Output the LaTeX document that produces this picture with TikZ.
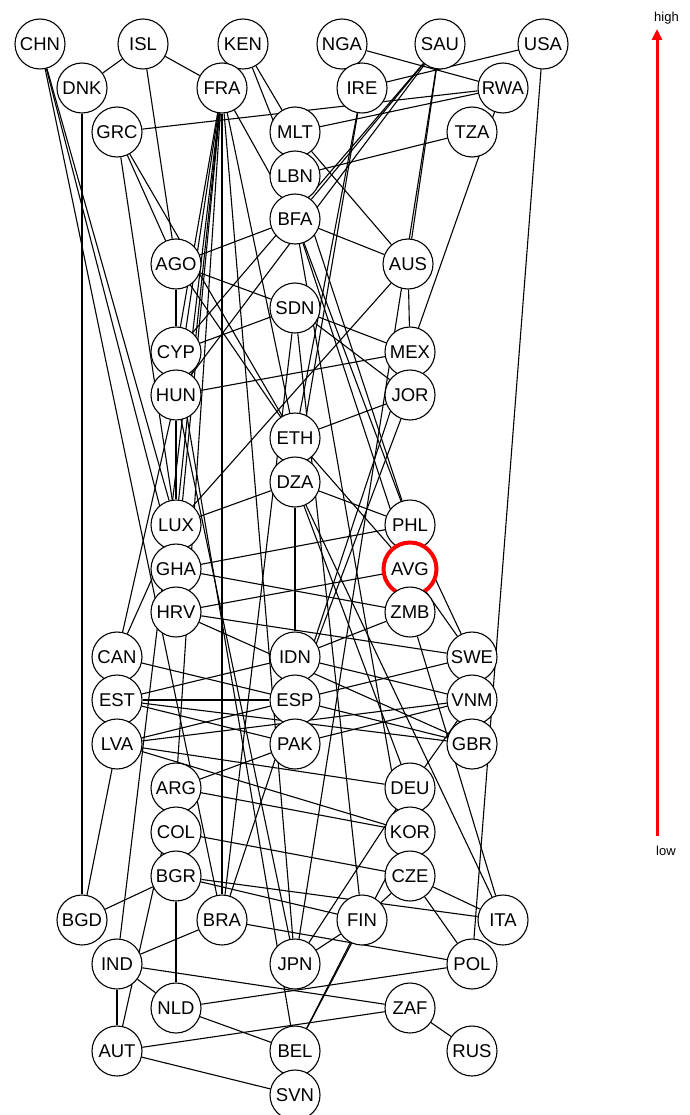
\documentclass[tikz,border=0pt]{standalone}
\usepackage{fontspec}
\setmainfont{Liberation Sans}
\usetikzlibrary{arrows.meta}
\pgfdeclarelayer{links}
\pgfsetlayers{links,main}
\begin{document}
\begin{tikzpicture}[x=1pt,y=-1pt,
  country/.style={circle,draw=black,fill=white,line width=1.1pt,minimum size=50pt,inner sep=0pt,
    font=\fontsize{18.5}{20}\selectfont},
  marked/.style={country,draw=red,line width=4pt,minimum size=53pt},
  link/.style={line width=1.1pt},
  scalelabel/.style={font=\fontsize{13}{14}\selectfont,inner sep=0pt}]
\useasboundingbox (0,0) rectangle (689,1115);
% countries
\node[country] (CHN) at (40,44) {CHN};
\node[country] (ISL) at (143,44) {ISL};
\node[country] (KEN) at (243,44) {KEN};
\node[country] (NGA) at (342,44) {NGA};
\node[country] (SAU) at (440,44) {SAU};
\node[country] (USA) at (543,44) {USA};
\node[country] (DNK) at (82,88) {DNK};
\node[country] (FRA) at (222,88) {FRA};
\node[country] (IRE) at (362,88) {IRE};
\node[country] (RWA) at (503,88) {RWA};
\node[country] (GRC) at (117,132) {GRC};
\node[country] (MLT) at (295,132) {MLT};
\node[country] (TZA) at (472,132) {TZA};
\node[country] (LBN) at (295,176) {LBN};
\node[country] (BFA) at (295,219) {BFA};
\node[country] (AGO) at (176,264) {AGO};
\node[country] (AUS) at (408,264) {AUS};
\node[country] (SDN) at (295,308) {SDN};
\node[country] (CYP) at (176,352) {CYP};
\node[country] (MEX) at (410,352) {MEX};
\node[country] (HUN) at (176,395) {HUN};
\node[country] (JOR) at (410,395) {JOR};
\node[country] (ETH) at (295,438) {ETH};
\node[country] (DZA) at (295,482) {DZA};
\node[country] (LUX) at (176,525) {LUX};
\node[country] (PHL) at (410,525) {PHL};
\node[country] (GHA) at (176,569) {GHA};
\node[marked]  (AVG) at (410,569) {AVG};
\node[country] (HRV) at (176,612) {HRV};
\node[country] (ZMB) at (410,612) {ZMB};
\node[country] (CAN) at (117,657) {CAN};
\node[country] (IDN) at (295,657) {IDN};
\node[country] (SWE) at (472,657) {SWE};
\node[country] (EST) at (117,700) {EST};
\node[country] (ESP) at (295,700) {ESP};
\node[country] (VNM) at (472,700) {VNM};
\node[country] (LVA) at (117,744) {LVA};
\node[country] (PAK) at (295,744) {PAK};
\node[country] (GBR) at (472,744) {GBR};
\node[country] (ARG) at (176,788) {ARG};
\node[country] (DEU) at (410,788) {DEU};
\node[country] (COL) at (176,832) {COL};
\node[country] (KOR) at (410,832) {KOR};
\node[country] (BGR) at (176,876) {BGR};
\node[country] (CZE) at (410,876) {CZE};
\node[country] (BGD) at (82,920) {BGD};
\node[country] (BRA) at (222,920) {BRA};
\node[country] (FIN) at (362,920) {FIN};
\node[country] (ITA) at (503,920) {ITA};
\node[country] (IND) at (117,964) {IND};
\node[country] (JPN) at (295,964) {JPN};
\node[country] (POL) at (472,964) {POL};
\node[country] (NLD) at (176,1008) {NLD};
\node[country] (ZAF) at (410,1008) {ZAF};
\node[country] (AUT) at (117,1051) {AUT};
\node[country] (BEL) at (295,1051) {BEL};
\node[country] (RUS) at (472,1051) {RUS};
\node[country] (SVN) at (295,1095) {SVN};
% links between countries, kept behind the circles
\begin{pgfonlayer}{links}
\fill[white] (0,0) rectangle (689,1115);
\foreach \a/\b in {ISL/DNK, ISL/FRA, ISL/AGO,
  CHN/LUX, CHN/GHA, CHN/BRA, DNK/BGD,
  GRC/RWA, GRC/AGO, GRC/LUX, GRC/ETH,
  KEN/MLT, KEN/LBN, NGA/RWA,
  IRE/USA, IRE/ETH, IRE/DZA,
  SAU/AUS, SAU/BFA, SAU/CYP, SAU/HUN, SAU/JPN,
  USA/POL, RWA/MEX, TZA/LBN, MLT/RWA, MLT/AUS,
  FRA/CYP, FRA/HUN, FRA/LUX, FRA/ETH, FRA/BFA, FRA/GHA, FRA/BRA, FRA/ARG, FRA/JPN,
  LBN/PHL, BFA/AUS, BFA/AGO, BFA/PHL, BFA/AVG, BFA/CZE,
  AGO/SDN, AGO/CYP, AGO/ETH,
  SDN/CYP, SDN/MEX, SDN/JOR, SDN/BRA, SDN/FIN,
  AUS/MEX, AUS/LUX, HUN/MEX, HUN/LUX, HUN/JPN, CAN/HUN,
  MEX/BRA, JOR/ETH, JOR/ESP, ETH/AVG,
  DZA/LUX, DZA/PHL, DZA/IDN, DZA/ITA, DZA/DEU,
  CAN/LUX, GHA/PHL, GHA/ZMB,
  HRV/AVG, HRV/SWE, HRV/GBR, CYP/BEL,
  IDN/ZMB, IDN/VNM, IDN/EST,
  AVG/SWE, PHL/SWE, ZMB/ITA, CAN/ESP,
  EST/ESP, EST/GBR, EST/PAK,
  LVA/ESP, LVA/VNM, LVA/DEU, LVA/KOR, LVA/BGD,
  ESP/GBR, ESP/SWE, PAK/VNM, PAK/ARG,
  ARG/KOR, ARG/AUT, DEU/VNM, DEU/JPN, COL/CZE,
  BGR/BGD, BGR/ITA, BGR/FIN, BGR/NLD,
  CZE/ITA, CZE/POL, CZE/FIN,
  BRA/IND, BRA/POL, FIN/JPN, FIN/BEL, KOR/BEL,
  IND/ZAF, IND/NLD, IND/AUT, IND/FRA,
  NLD/BEL, NLD/POL, AUT/ZAF, AUT/SVN, ZAF/RUS}
  \draw[link] (\a) -- (\b);
\end{pgfonlayer}
% scale arrow
\coordinate (lowend) at (657,836);
\coordinate (highend) at (657,29);
\draw[red,line width=3pt,-{Triangle[length=11pt,width=10pt]}] (lowend) -- (highend);
\node[scalelabel,anchor=west] (hightxt) at (654,18) {high};
\node[scalelabel,anchor=west] (lowtxt) at (656,851) {low};
\end{tikzpicture}
\end{document}
